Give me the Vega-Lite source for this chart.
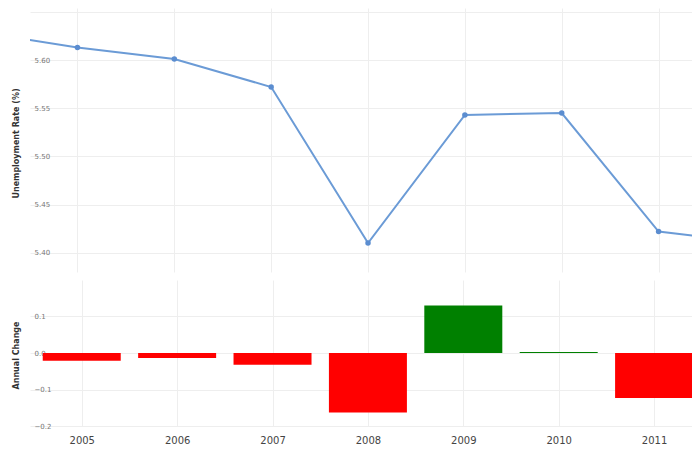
{
  "$schema": "https://vega.github.io/schema/vega-lite/v6.json",
  "autosize": "pad",
  "padding": {"left": 12, "top": 8, "right": 0, "bottom": 0},
  "background": "white",
  "config": {
    "view": {"stroke": null},
    "axis": {"gridColor": "#eeeeee", "gridWidth": 1, "domain": false, "ticks": false, "labelFont": "DejaVu Sans", "titleFont": "DejaVu Sans"}
  },
  "datasets": {
    "rate": [
      {"year": 2004, "rate": 5.629},
      {"year": 2005, "rate": 5.613},
      {"year": 2006, "rate": 5.601},
      {"year": 2007, "rate": 5.572},
      {"year": 2008, "rate": 5.410},
      {"year": 2009, "rate": 5.543},
      {"year": 2010, "rate": 5.545},
      {"year": 2011, "rate": 5.422},
      {"year": 2012, "rate": 5.410}
    ],
    "change": [
      {"year": 2005, "change": -0.021, "dir": "down"},
      {"year": 2006, "change": -0.014, "dir": "down"},
      {"year": 2007, "change": -0.032, "dir": "down"},
      {"year": 2008, "change": -0.163, "dir": "down"},
      {"year": 2009, "change": 0.130, "dir": "up"},
      {"year": 2010, "change": 0.003, "dir": "up"},
      {"year": 2011, "change": -0.123, "dir": "down"}
    ]
  },
  "spacing": 8,
  "vconcat": [
    {
      "width": 662,
      "height": 264,
      "data": {"name": "rate"},
      "layer": [
        {
          "mark": {"type": "line", "color": "#6b9bd6", "strokeWidth": 2, "clip": true},
          "encoding": {
            "x": {"field": "year", "type": "quantitative", "scale": {"domain": [2004.51, 2011.345], "nice": false, "zero": false},
                  "axis": {"values": [2005, 2006, 2007, 2008, 2009, 2010, 2011], "labels": false, "title": null, "grid": true}},
            "y": {"field": "rate", "type": "quantitative", "scale": {"domain": [5.380, 5.654], "nice": false, "zero": false},
                  "axis": {"values": [5.40, 5.45, 5.50, 5.55, 5.60, 5.65], "format": ".2f",
                           "labelExpr": "datum.value > 5.62 ? '' : datum.label",
                           "labelAlign": "left", "labelPadding": -4, "labelFontSize": 7, "labelColor": "#777777",
                           "title": "Unemployment Rate (%)", "titleFontSize": 8, "titleFontWeight": "bold", "titleColor": "#333333",
                           "titleX": -10, "titleY": 135, "titleAngle": -90, "titleAlign": "center", "titleBaseline": "bottom"}}
          }
        },
        {
          "mark": {"type": "point", "filled": true, "color": "#5b8dd0", "size": 30, "opacity": 1, "clip": true},
          "encoding": {
            "x": {"field": "year", "type": "quantitative"},
            "y": {"field": "rate", "type": "quantitative"}
          }
        }
      ]
    },
    {
      "width": 662,
      "height": 146,
      "data": {"name": "change"},
      "mark": {"type": "bar", "size": 78, "clip": true},
      "encoding": {
        "x": {"field": "year", "type": "quantitative", "scale": {"domain": [2004.51, 2011.345], "nice": false, "zero": false},
              "axis": {"values": [2005, 2006, 2007, 2008, 2009, 2010, 2011], "format": "d", "title": null, "grid": true,
                       "labelFontSize": 10, "labelColor": "#444444", "labelPadding": 9}},
        "y": {"field": "change", "type": "quantitative", "scale": {"domain": [-0.2, 0.2], "nice": false},
              "axis": {"values": [-0.2, -0.1, 0, 0.1], "format": ".1f",
                       "labelAlign": "left", "labelPadding": -4, "labelFontSize": 7, "labelColor": "#777777",
                       "title": "Annual Change", "titleFontSize": 8, "titleFontWeight": "bold", "titleColor": "#333333",
                       "titleX": -10, "titleY": 75, "titleAngle": -90, "titleAlign": "center", "titleBaseline": "bottom"}},
        "color": {"field": "dir", "type": "nominal", "scale": {"domain": ["up", "down"], "range": ["#008000", "#ff0000"]}, "legend": null}
      }
    }
  ]
}
